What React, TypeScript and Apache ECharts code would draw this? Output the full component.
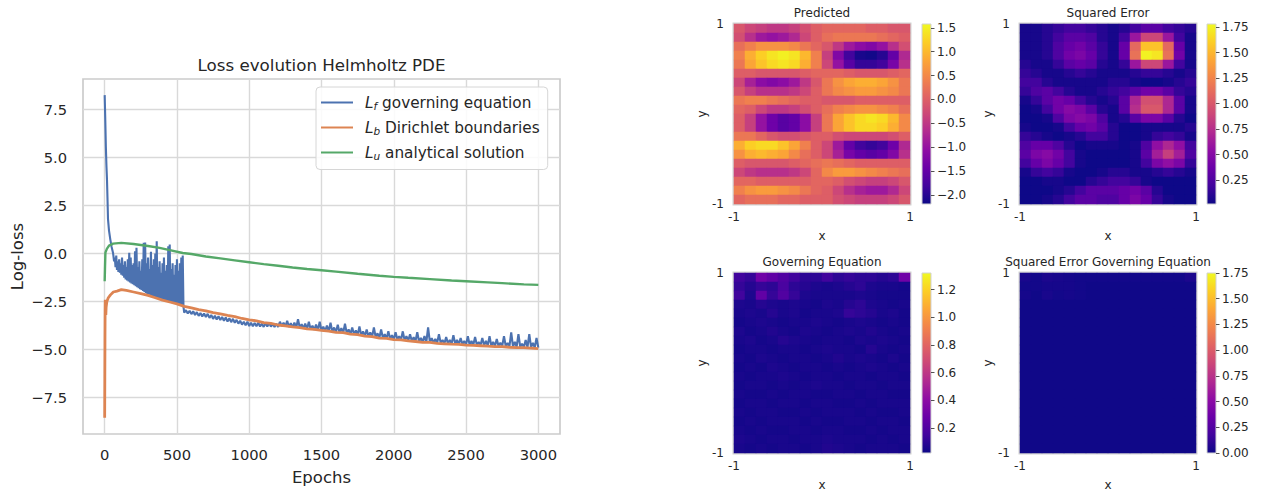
import React, { useEffect, useRef } from 'react';
import * as echarts from 'echarts';

const FONT = 'DejaVu Sans';
const INK = '#262626';
const PLASMA = ['#0d0887', '#41049d', '#6a00a8', '#8f0da4', '#b12a90', '#cc4778', '#e16462', '#f2844b', '#fca636', '#fcce25', '#f0f921'];

// ---------- Loss curves (epoch, log-loss) ----------
const X_TICKS = [0, 500, 1000, 1500, 2000, 2500, 3000];
const Y_TICKS = [-7.5, -5, -2.5, 0, 2.5, 5, 7.5];

const LF_HEAD: [number, number][] = [[0, 8.26], [4, 7.0], [8, 5.6], [12, 4.6], [16, 3.85], [20, 2.7], [23, 1.8], [30, 1.2], [39, 0.73], [48, 0.35], [58, 0.03]];
// noisy band: lower edge at epochs 65,75,..,545 and upper edge at 70,80,..,540
const LF_BAND_LOW = [-0.4, -0.7, -0.85, -0.95, -1.0, -1.1, -1.15, -1.25, -1.35, -1.4, -1.45, -1.5, -1.55, -1.6, -1.65, -1.7, -1.75, -1.8, -1.85, -1.9, -1.95, -2.0, -2.05, -2.1, -2.1, -2.15, -2.2, -2.25, -2.25, -2.3, -2.3, -2.35, -2.35, -2.4, -2.4, -2.45, -2.45, -2.5, -2.5, -2.55, -2.55, -2.6, -2.6, -2.62, -2.65, -2.67, -2.7, -2.72, -2.75];
const LF_BAND_HIGH = [-0.2, -0.1, -0.4, -0.3, -0.5, -0.2, -0.6, -0.4, -0.7, -0.3, 0.05, -0.2, -0.6, -0.5, 0.12, 0.3, -0.7, -0.4, -0.9, -0.3, 0.56, 0.58, -0.5, -0.2, -0.8, 0.1, -0.6, -0.3, 0.0, 0.64, -0.7, -0.4, -1.0, -0.5, -0.2, -0.9, -0.6, 0.38, 0.47, -0.8, -0.5, -1.1, -0.6, -0.3, -0.9, -0.5, -0.2, -0.1];
// tail: lower edge at epochs 550,575,..,3000 and upper edge at 562.5,587.5,..,2987.5
const LF_TAIL_LOW = [-3.07, -3.12, -3.15, -3.2, -3.24, -3.27, -3.3, -3.35, -3.4, -3.43,
  -3.46, -3.5, -3.54, -3.57, -3.6, -3.65, -3.7, -3.74, -3.77, -3.78,
  -3.78, -3.8, -3.82, -3.8, -3.8, -3.82, -3.82,
  -3.78, -3.8, -3.82, -3.85, -3.86, -3.88, -3.9, -3.93, -3.95, -3.97, -4.0,
  -4.02, -4.04, -4.06, -4.08, -4.1, -4.12, -4.14, -4.17, -4.2, -4.22, -4.24, -4.27, -4.3, -4.32, -4.34, -4.37, -4.4, -4.41, -4.43, -4.45,
  -4.47, -4.48, -4.5, -4.52, -4.54, -4.56, -4.57, -4.59, -4.6, -4.62, -4.62, -4.64, -4.66, -4.67, -4.68, -4.69, -4.7, -4.71, -4.72, -4.73,
  -4.75, -4.76, -4.76, -4.77, -4.78, -4.79, -4.8, -4.81, -4.82, -4.83, -4.83, -4.84, -4.85, -4.86, -4.86, -4.87, -4.88, -4.88, -4.89, -4.9,
  -4.9];
const LF_TAIL_HIGH = [-2.95, -2.98, -3.0, -3.05, -3.1, -3.12, -3.14, -3.2, -3.24, -3.26,
  -3.3, -3.33, -3.37, -3.4, -3.45, -3.5, -3.55, -3.55, -3.6, -3.62,
  -3.6, -3.65, -3.62, -3.6, -3.66, -3.65,
  -3.55, -3.6, -3.5, -3.62, -3.6, -3.42, -3.68, -3.65, -3.55, -3.75,
  -3.7, -3.55, -3.8, -3.75, -3.6, -3.85, -3.7, -3.88, -3.65, -3.95,
  -3.85, -4.0, -3.8, -4.05, -3.95, -4.1, -3.85, -4.15, -3.95, -4.2,
  -4.05, -4.25, -4.1, -4.3, -4.05, -4.3, -4.2, -4.35, -4.1, -4.4,
  -4.3, -3.85, -4.4, -4.45, -4.2, -4.5, -4.35, -4.5, -4.25, -4.5,
  -4.4, -4.55, -4.3, -4.55, -4.35, -4.6, -4.4, -4.55, -4.3, -4.6,
  -4.45, -4.65, -4.3, -4.65, -4.1, -4.6, -4.2, -4.7, -4.5, -4.2,
  -4.65, -4.4];

const LB_DATA: [number, number][] = [[0, -8.55], [1, -6.5], [2, -4.5], [3, -3.0], [4, -2.4], [6, -2.8], [8, -3.2], [10, -2.8], [15, -2.5], [25, -2.3], [40, -2.15], [60, -2.0], [85, -1.95], [115, -1.88], [150, -1.92],
  [200, -2.0], [250, -2.08], [300, -2.18], [350, -2.3], [400, -2.42], [450, -2.52], [500, -2.62], [550, -2.75], [600, -2.83], [650, -2.92], [700, -2.98], [750, -3.08], [800, -3.14], [850, -3.22], [900, -3.28], [950, -3.38],
  [1000, -3.45], [1050, -3.5], [1100, -3.6], [1150, -3.64], [1200, -3.72], [1250, -3.76], [1300, -3.82], [1350, -3.86], [1400, -3.92], [1450, -3.95], [1500, -4.0], [1550, -4.04], [1600, -4.1], [1650, -4.12], [1700, -4.2], [1750, -4.22], [1800, -4.3], [1850, -4.33], [1900, -4.4], [1950, -4.42],
  [2000, -4.48], [2050, -4.5], [2100, -4.55], [2150, -4.58], [2200, -4.62], [2250, -4.63], [2300, -4.68], [2350, -4.7], [2400, -4.72], [2450, -4.73], [2500, -4.77], [2550, -4.78], [2600, -4.8], [2650, -4.82], [2700, -4.85], [2750, -4.85], [2800, -4.88], [2850, -4.9], [2900, -4.9], [2950, -4.92], [3000, -4.95]];

const LU_DATA: [number, number][] = [[0, -1.44], [2, -0.8], [5, 0.05], [15, 0.25], [30, 0.42], [58, 0.52], [115, 0.56], [200, 0.5], [300, 0.4], [380, 0.3], [450, 0.18], [540, 0.03], [600, -0.02], [700, -0.15], [800, -0.25], [900, -0.35], [1000, -0.45], [1100, -0.55], [1200, -0.63], [1300, -0.72], [1400, -0.8], [1500, -0.87], [1600, -0.94], [1750, -1.05], [1900, -1.15], [2000, -1.21], [2100, -1.26], [2250, -1.33], [2400, -1.4], [2500, -1.44], [2650, -1.5], [2750, -1.54], [2900, -1.6], [3000, -1.63]];

// ---------- Heatmaps (rows top -> bottom, 16 columns x -1..1) ----------
const HEAT_COLS = 16;
const HEAT_ROWS = 20;

const PRED: number[][] = [
  [-0.1, -0.3, -0.4, -0.5, -0.5, -0.4, -0.2, 0.0, 0.1, 0.1, 0.1, 0.1, 0.0, 0.0, -0.1, -0.1],
  [-0.2, -0.6, -0.9, -1.0, -0.9, -0.7, -0.3, 0.0, 0.2, 0.3, 0.3, 0.3, 0.3, 0.2, 0.1, 0.0],
  [0.2, 0.4, 0.6, 0.6, 0.6, 0.5, 0.3, 0.1, -0.1, -0.5, -0.9, -1.1, -1.2, -1.0, -0.6, -0.2],
  [0.4, 0.9, 1.2, 1.4, 1.5, 1.4, 1.0, 0.4, -0.4, -1.2, -1.8, -2.1, -2.15, -2.0, -1.5, -0.7],
  [0.3, 0.8, 1.1, 1.3, 1.4, 1.3, 0.9, 0.4, -0.3, -1.0, -1.6, -1.9, -1.9, -1.8, -1.3, -0.6],
  [0.0, 0.0, -0.1, -0.1, -0.1, -0.1, 0.0, 0.1, 0.1, 0.1, 0.0, -0.1, -0.1, -0.1, 0.0, 0.1],
  [-0.3, -0.8, -1.1, -1.2, -1.1, -0.9, -0.5, -0.1, 0.3, 0.6, 0.8, 0.9, 0.9, 0.8, 0.6, 0.3],
  [-0.1, -0.4, -0.6, -0.6, -0.6, -0.5, -0.3, 0.0, 0.3, 0.5, 0.6, 0.7, 0.7, 0.6, 0.5, 0.3],
  [0.3, 0.4, 0.4, 0.3, 0.2, 0.1, 0.0, 0.0, -0.1, -0.1, -0.1, 0.0, 0.0, 0.0, 0.0, 0.0],
  [0.1, 0.0, -0.3, -0.5, -0.5, -0.4, -0.2, 0.0, 0.2, 0.4, 0.5, 0.6, 0.6, 0.5, 0.4, 0.2],
  [0.0, -0.4, -1.0, -1.4, -1.6, -1.5, -1.1, -0.4, 0.3, 0.8, 1.1, 1.3, 1.4, 1.3, 1.0, 0.5],
  [0.0, -0.4, -1.0, -1.4, -1.6, -1.5, -1.1, -0.4, 0.3, 0.8, 1.1, 1.3, 1.3, 1.2, 0.9, 0.5],
  [0.3, 0.3, 0.1, -0.1, -0.2, -0.2, -0.1, 0.0, 0.0, -0.2, -0.3, -0.3, -0.3, -0.3, -0.2, 0.0],
  [0.9, 1.2, 1.3, 1.3, 1.1, 0.8, 0.4, 0.0, -0.3, -0.9, -1.5, -1.8, -1.9, -1.8, -1.4, -0.7],
  [0.6, 0.9, 1.0, 0.9, 0.8, 0.5, 0.2, 0.0, -0.3, -0.8, -1.3, -1.5, -1.6, -1.5, -1.2, -0.6],
  [0.0, -0.1, -0.1, -0.1, -0.1, 0.0, 0.1, 0.2, 0.3, 0.2, 0.1, 0.0, 0.0, 0.0, 0.0, 0.0],
  [-0.3, -0.5, -0.6, -0.6, -0.6, -0.5, -0.3, 0.1, 0.5, 0.7, 0.7, 0.6, 0.5, 0.4, 0.3, 0.2],
  [0.1, 0.1, 0.0, 0.0, 0.0, 0.0, 0.0, 0.1, 0.1, 0.0, -0.2, -0.3, -0.4, -0.4, -0.3, -0.1],
  [0.4, 0.6, 0.7, 0.7, 0.6, 0.5, 0.3, 0.1, 0.0, -0.3, -0.6, -0.8, -0.9, -0.9, -0.7, -0.3],
  [0.1, 0.2, 0.2, 0.2, 0.1, 0.1, 0.0, 0.0, 0.0, -0.2, -0.3, -0.4, -0.4, -0.4, -0.3, -0.1],
];

const SQERR: number[][] = [
  [0.05, 0.05, 0.1, 0.15, 0.2, 0.2, 0.15, 0.1, 0.05, 0.1, 0.2, 0.3, 0.3, 0.2, 0.15, 0.1],
  [0.05, 0.05, 0.1, 0.2, 0.3, 0.3, 0.25, 0.1, 0.05, 0.2, 0.6, 0.9, 0.9, 0.6, 0.2, 0.05],
  [0.05, 0.05, 0.1, 0.25, 0.35, 0.4, 0.3, 0.15, 0.05, 0.35, 1.1, 1.55, 1.55, 1.1, 0.35, 0.05],
  [0.05, 0.05, 0.1, 0.25, 0.4, 0.45, 0.35, 0.15, 0.05, 0.35, 1.15, 1.75, 1.7, 1.15, 0.4, 0.05],
  [0.1, 0.05, 0.05, 0.15, 0.3, 0.35, 0.3, 0.1, 0.05, 0.15, 0.6, 0.9, 0.9, 0.6, 0.2, 0.05],
  [0.15, 0.1, 0.05, 0.05, 0.1, 0.15, 0.1, 0.05, 0.05, 0.05, 0.1, 0.15, 0.15, 0.1, 0.05, 0.1],
  [0.2, 0.2, 0.1, 0.05, 0.05, 0.05, 0.05, 0.05, 0.1, 0.1, 0.05, 0.02, 0.02, 0.05, 0.1, 0.15],
  [0.15, 0.25, 0.3, 0.2, 0.1, 0.05, 0.05, 0.1, 0.15, 0.2, 0.3, 0.4, 0.4, 0.3, 0.15, 0.1],
  [0.05, 0.15, 0.3, 0.4, 0.35, 0.2, 0.1, 0.05, 0.1, 0.3, 0.7, 0.95, 0.95, 0.7, 0.3, 0.05],
  [0.02, 0.05, 0.2, 0.4, 0.5, 0.45, 0.3, 0.1, 0.05, 0.3, 0.75, 1.0, 1.0, 0.7, 0.3, 0.05],
  [0.02, 0.02, 0.05, 0.25, 0.45, 0.5, 0.45, 0.25, 0.05, 0.1, 0.3, 0.45, 0.45, 0.3, 0.1, 0.02],
  [0.05, 0.02, 0.02, 0.05, 0.2, 0.35, 0.4, 0.3, 0.1, 0.02, 0.02, 0.05, 0.05, 0.05, 0.05, 0.1],
  [0.15, 0.1, 0.05, 0.02, 0.05, 0.1, 0.2, 0.2, 0.1, 0.02, 0.02, 0.05, 0.15, 0.2, 0.15, 0.05],
  [0.25, 0.35, 0.35, 0.25, 0.1, 0.02, 0.05, 0.05, 0.05, 0.02, 0.05, 0.25, 0.55, 0.7, 0.55, 0.2],
  [0.3, 0.45, 0.5, 0.4, 0.2, 0.05, 0.02, 0.02, 0.02, 0.02, 0.05, 0.3, 0.65, 0.85, 0.65, 0.25],
  [0.2, 0.35, 0.45, 0.35, 0.2, 0.05, 0.02, 0.02, 0.02, 0.02, 0.05, 0.2, 0.45, 0.55, 0.45, 0.15],
  [0.05, 0.15, 0.2, 0.15, 0.05, 0.02, 0.02, 0.05, 0.1, 0.1, 0.05, 0.05, 0.1, 0.15, 0.1, 0.05],
  [0.02, 0.02, 0.05, 0.05, 0.02, 0.02, 0.1, 0.15, 0.2, 0.2, 0.15, 0.05, 0.02, 0.02, 0.02, 0.02],
  [0.02, 0.02, 0.02, 0.05, 0.1, 0.2, 0.3, 0.3, 0.3, 0.35, 0.4, 0.3, 0.1, 0.02, 0.02, 0.02],
  [0.02, 0.02, 0.05, 0.1, 0.2, 0.3, 0.3, 0.25, 0.25, 0.35, 0.45, 0.35, 0.15, 0.05, 0.02, 0.02],
];

const GOV: number[][] = [
  [0.15, 0.12, 0.3, 0.25, 0.2, 0.15, 0.1, 0.1, 0.15, 0.1, 0.12, 0.1, 0.1, 0.08, 0.1, 0.3],
  [0.12, 0.08, 0.12, 0.1, 0.18, 0.1, 0.08, 0.06, 0.05, 0.06, 0.08, 0.1, 0.06, 0.05, 0.05, 0.04],
  [0.15, 0.06, 0.25, 0.12, 0.2, 0.12, 0.06, 0.05, 0.05, 0.05, 0.05, 0.06, 0.05, 0.04, 0.04, 0.04],
  [0.06, 0.05, 0.08, 0.06, 0.05, 0.06, 0.05, 0.04, 0.06, 0.05, 0.08, 0.1, 0.06, 0.05, 0.04, 0.05],
  [0.05, 0.06, 0.05, 0.08, 0.05, 0.06, 0.04, 0.05, 0.05, 0.06, 0.12, 0.1, 0.08, 0.05, 0.06, 0.04],
  [0.04, 0.05, 0.06, 0.05, 0.04, 0.05, 0.05, 0.06, 0.05, 0.04, 0.05, 0.06, 0.05, 0.04, 0.05, 0.04],
  [0.06, 0.04, 0.05, 0.07, 0.05, 0.04, 0.06, 0.05, 0.04, 0.05, 0.06, 0.05, 0.07, 0.05, 0.04, 0.05],
  [0.05, 0.06, 0.04, 0.05, 0.08, 0.06, 0.05, 0.04, 0.05, 0.05, 0.04, 0.06, 0.05, 0.06, 0.05, 0.04],
  [0.04, 0.05, 0.05, 0.04, 0.05, 0.05, 0.04, 0.05, 0.06, 0.05, 0.05, 0.04, 0.08, 0.05, 0.04, 0.05],
  [0.05, 0.04, 0.06, 0.05, 0.04, 0.05, 0.05, 0.04, 0.05, 0.07, 0.05, 0.06, 0.05, 0.04, 0.06, 0.04],
  [0.04, 0.05, 0.04, 0.06, 0.05, 0.04, 0.05, 0.05, 0.04, 0.05, 0.04, 0.05, 0.06, 0.05, 0.04, 0.05],
  [0.05, 0.04, 0.05, 0.05, 0.06, 0.05, 0.04, 0.05, 0.05, 0.04, 0.05, 0.05, 0.04, 0.05, 0.05, 0.04],
  [0.04, 0.05, 0.05, 0.04, 0.05, 0.04, 0.05, 0.06, 0.05, 0.05, 0.04, 0.05, 0.05, 0.04, 0.05, 0.05],
  [0.05, 0.04, 0.04, 0.05, 0.04, 0.05, 0.05, 0.04, 0.04, 0.05, 0.05, 0.04, 0.05, 0.05, 0.04, 0.04],
  [0.04, 0.05, 0.05, 0.04, 0.05, 0.05, 0.04, 0.05, 0.05, 0.04, 0.04, 0.05, 0.04, 0.05, 0.05, 0.05],
  [0.05, 0.04, 0.05, 0.05, 0.04, 0.04, 0.05, 0.04, 0.05, 0.05, 0.05, 0.04, 0.05, 0.04, 0.04, 0.05],
  [0.04, 0.05, 0.04, 0.05, 0.05, 0.05, 0.04, 0.05, 0.04, 0.04, 0.05, 0.05, 0.04, 0.05, 0.05, 0.04],
  [0.05, 0.04, 0.05, 0.04, 0.04, 0.05, 0.05, 0.04, 0.05, 0.05, 0.04, 0.04, 0.05, 0.04, 0.05, 0.05],
  [0.06, 0.05, 0.04, 0.05, 0.05, 0.04, 0.05, 0.05, 0.06, 0.05, 0.05, 0.05, 0.04, 0.05, 0.04, 0.05],
  [0.05, 0.04, 0.05, 0.04, 0.05, 0.05, 0.04, 0.05, 0.07, 0.06, 0.05, 0.04, 0.05, 0.05, 0.05, 0.04],
];

const SQGOV: number[][] = [
  [0.04, 0.02, 0.05, 0.04, 0.03, 0.02, 0.02, 0.02, 0.02, 0.02, 0.02, 0.02, 0.02, 0.02, 0.02, 0.05],
  [0.02, 0.02, 0.03, 0.03, 0.03, 0.02, 0.01, 0.01, 0.01, 0.01, 0.01, 0.01, 0.01, 0.01, 0.01, 0.01],
  [0.03, 0.01, 0.04, 0.02, 0.03, 0.02, 0.01, 0.01, 0.01, 0.01, 0.01, 0.01, 0.01, 0.01, 0.01, 0.01],
  [0.01, 0.01, 0.01, 0.01, 0.01, 0.01, 0.01, 0.01, 0.01, 0.01, 0.01, 0.01, 0.01, 0.01, 0.01, 0.01],
  [0.01, 0.01, 0.01, 0.01, 0.01, 0.01, 0.01, 0.01, 0.01, 0.01, 0.01, 0.01, 0.01, 0.01, 0.01, 0.01],
  [0.01, 0.01, 0.01, 0.01, 0.01, 0.01, 0.01, 0.01, 0.01, 0.01, 0.01, 0.01, 0.01, 0.01, 0.01, 0.01],
  [0.01, 0.01, 0.01, 0.01, 0.01, 0.01, 0.01, 0.01, 0.01, 0.01, 0.01, 0.01, 0.01, 0.01, 0.01, 0.01],
  [0.01, 0.01, 0.01, 0.01, 0.01, 0.01, 0.01, 0.01, 0.01, 0.01, 0.01, 0.01, 0.01, 0.01, 0.01, 0.01],
  [0.01, 0.01, 0.01, 0.01, 0.01, 0.01, 0.01, 0.01, 0.01, 0.01, 0.01, 0.01, 0.01, 0.01, 0.01, 0.01],
  [0.01, 0.01, 0.01, 0.01, 0.01, 0.01, 0.01, 0.01, 0.01, 0.01, 0.01, 0.01, 0.01, 0.01, 0.01, 0.01],
  [0.01, 0.01, 0.01, 0.01, 0.01, 0.01, 0.01, 0.01, 0.01, 0.01, 0.01, 0.01, 0.01, 0.01, 0.01, 0.01],
  [0.01, 0.01, 0.01, 0.01, 0.01, 0.01, 0.01, 0.01, 0.01, 0.01, 0.01, 0.01, 0.01, 0.01, 0.01, 0.01],
  [0.01, 0.01, 0.01, 0.01, 0.01, 0.01, 0.01, 0.01, 0.01, 0.01, 0.01, 0.01, 0.01, 0.01, 0.01, 0.01],
  [0.01, 0.01, 0.01, 0.01, 0.01, 0.01, 0.01, 0.01, 0.01, 0.01, 0.01, 0.01, 0.01, 0.01, 0.01, 0.01],
  [0.01, 0.01, 0.01, 0.01, 0.01, 0.01, 0.01, 0.01, 0.01, 0.01, 0.01, 0.01, 0.01, 0.01, 0.01, 0.01],
  [0.01, 0.01, 0.01, 0.01, 0.01, 0.01, 0.01, 0.01, 0.01, 0.01, 0.01, 0.01, 0.01, 0.01, 0.01, 0.01],
  [0.01, 0.01, 0.01, 0.01, 0.01, 0.01, 0.01, 0.01, 0.01, 0.01, 0.01, 0.01, 0.01, 0.01, 0.01, 0.01],
  [0.01, 0.01, 0.01, 0.01, 0.01, 0.01, 0.01, 0.01, 0.01, 0.01, 0.01, 0.01, 0.01, 0.01, 0.01, 0.01],
  [0.01, 0.01, 0.01, 0.01, 0.01, 0.01, 0.01, 0.01, 0.01, 0.01, 0.01, 0.01, 0.01, 0.01, 0.01, 0.01],
  [0.01, 0.01, 0.01, 0.01, 0.01, 0.01, 0.01, 0.01, 0.01, 0.01, 0.01, 0.01, 0.01, 0.01, 0.01, 0.01],
];

const PRED_TICKS = [-2.0, -1.5, -1.0, -0.5, 0.0, 0.5, 1.0, 1.5];
const SQERR_TICKS = [0.25, 0.5, 0.75, 1.0, 1.25, 1.5, 1.75];
const GOV_TICKS = [0.2, 0.4, 0.6, 0.8, 1.0, 1.2];
const SQGOV_TICKS = [0.0, 0.25, 0.5, 0.75, 1.0, 1.25, 1.5, 1.75];

const PANELS = [
  { title: 'Predicted', grid: PRED, min: -2.19, max: 1.58, ticks: PRED_TICKS, dec: 1, plot: [734, 24, 176, 180], bar: [922, 24, 9, 180] },
  { title: 'Squared Error', grid: SQERR, min: 0.015, max: 1.78, ticks: SQERR_TICKS, dec: 2, plot: [1020, 24, 176, 180], bar: [1207, 24, 9, 180] },
  { title: 'Governing Equation', grid: GOV, min: 0.02, max: 1.32, ticks: GOV_TICKS, dec: 1, plot: [734, 273, 176, 180], bar: [922, 273, 9, 180] },
  { title: 'Squared Error Governing Equation', grid: SQGOV, min: 0, max: 1.75, ticks: SQGOV_TICKS, dec: 2, plot: [1020, 273, 176, 180], bar: [1207, 273, 9, 180] },
];

const LEGEND_TEXT: Record<string, { sub: string; text: string }> = {
  Lf: { sub: 'f', text: 'governing equation' },
  Lb: { sub: 'b', text: 'Dirichlet boundaries' },
  Lu: { sub: 'u', text: 'analytical solution' },
};

const fmt = (v: number, d: number) => (v < 0 ? '\u2212' : '') + Math.abs(v).toFixed(d);

function buildLf(): [number, number][] {
  const out: [number, number][] = [...LF_HEAD];
  LF_BAND_LOW.forEach((lo, i) => {
    out.push([65 + 10 * i, lo]);
    if (i < LF_BAND_HIGH.length) out.push([70 + 10 * i, LF_BAND_HIGH[i]]);
  });
  LF_TAIL_LOW.forEach((lo, i) => {
    out.push([550 + 25 * i, lo]);
    if (i < LF_TAIL_HIGH.length) out.push([562.5 + 25 * i, LF_TAIL_HIGH[i]]);
  });
  return out;
}

function heatData(g: number[][]) {
  const out: number[][] = [];
  g.forEach((row, r) => row.forEach((v, c) => out.push([c, r, v])));
  return out;
}

function buildOption(): any {
  const catX = Array.from({ length: HEAT_COLS }, (_, i) => String(i));
  const catY = Array.from({ length: HEAT_ROWS }, (_, i) => String(i));
  const grids: any[] = [{ left: 83, top: 79, width: 477, height: 355, show: true, borderColor: '#cccccc', borderWidth: 1.7, backgroundColor: '#ffffff', containLabel: false, outerBoundsMode: 'none' }];
  const xAxes: any[] = [{
    type: 'value', gridIndex: 0, min: -150, max: 3150,
    axisLine: { show: false, onZero: false },
    axisTick: { show: false, customValues: X_TICKS },
    axisLabel: { customValues: X_TICKS, formatter: (v: number) => String(v), margin: 13, color: INK, fontSize: 14.7, fontFamily: FONT },
    splitLine: { show: true, lineStyle: { color: '#d9d9d9', width: 1.4 } },
    name: 'Epochs', nameLocation: 'middle', nameGap: 35, nameTextStyle: { color: INK, fontSize: 16.5, fontFamily: FONT },
  }];
  const yAxes: any[] = [{
    type: 'value', gridIndex: 0, min: -9.4, max: 9.1,
    axisLine: { show: false, onZero: false },
    axisTick: { show: false, customValues: Y_TICKS },
    axisLabel: { customValues: Y_TICKS, formatter: (v: number) => fmt(v, 1), margin: 16, color: INK, fontSize: 14.7, fontFamily: FONT },
    splitLine: { show: true, lineStyle: { color: '#d9d9d9', width: 1.4 } },
    name: 'Log-loss', nameLocation: 'middle', nameGap: 57, nameTextStyle: { color: INK, fontSize: 16.5, fontFamily: FONT },
  }];
  const series: any[] = [
    { name: 'Lf', type: 'line', xAxisIndex: 0, yAxisIndex: 0, data: buildLf(), symbol: 'none', lineStyle: { color: '#4c72b0', width: 2.1 }, itemStyle: { color: '#4c72b0' } },
    { name: 'Lb', type: 'line', xAxisIndex: 0, yAxisIndex: 0, data: LB_DATA, symbol: 'none', lineStyle: { color: '#dd8452', width: 2.8 }, itemStyle: { color: '#dd8452' } },
    { name: 'Lu', type: 'line', xAxisIndex: 0, yAxisIndex: 0, data: LU_DATA, symbol: 'none', lineStyle: { color: '#55a868', width: 2.4 }, itemStyle: { color: '#55a868' } },
  ];
  const visualMaps: any[] = [];
  const graphics: any[] = [{
    type: 'text', x: 321.5, y: 65,
    style: { text: 'Loss evolution Helmholtz PDE', fill: INK, fontSize: 16.7, fontFamily: FONT, align: 'center', verticalAlign: 'middle' },
  }];

  PANELS.forEach((p, i) => {
    const g = grids.length;
    const [pl, pt, pw, ph] = p.plot;
    const [bl, bt, bw, bh] = p.bar;
    grids.push({ left: pl, top: pt, width: pw, height: ph, show: true, borderColor: '#d2d2d2', borderWidth: 3, backgroundColor: 'transparent', outerBoundsMode: 'none' });
    grids.push({
      left: bl, top: bt, width: bw, height: bh, show: true, borderColor: '#d2d2d2', borderWidth: 1, outerBoundsMode: 'none',
      backgroundColor: new echarts.graphic.LinearGradient(0, 0, 0, 1, PLASMA.slice().reverse().map((c, k) => ({ offset: k / (PLASMA.length - 1), color: c }))),
    });
    const axisLbl = { color: INK, fontSize: 12, fontFamily: FONT };
    xAxes.push({ type: 'category', gridIndex: g, data: catX, show: false, position: 'top' });
    xAxes.push({
      type: 'value', gridIndex: g, min: -1, max: 1, position: 'bottom',
      axisLine: { show: false, onZero: false }, axisTick: { show: false, customValues: [-1, 1] }, splitLine: { show: false },
      axisLabel: { ...axisLbl, customValues: [-1, 1], formatter: (v: number) => (v < 0 ? '-1' : '1'), margin: 7 },
      name: 'x', nameLocation: 'middle', nameGap: 26, nameTextStyle: axisLbl,
    });
    xAxes.push({ type: 'value', gridIndex: g + 1, min: 0, max: 1, show: false });
    yAxes.push({ type: 'category', gridIndex: g, data: catY, inverse: true, show: false, position: 'right' });
    yAxes.push({
      type: 'value', gridIndex: g, min: -1, max: 1, position: 'left',
      axisLine: { show: false, onZero: false }, axisTick: { show: false, customValues: [-1, 1] }, splitLine: { show: false },
      axisLabel: { ...axisLbl, customValues: [-1, 1], formatter: (v: number) => (v < 0 ? '-1' : '1'), margin: 10 },
      name: 'y', nameLocation: 'middle', nameGap: 25, nameTextStyle: axisLbl,
    });
    yAxes.push({
      type: 'value', gridIndex: g + 1, min: p.min, max: p.max, position: 'right',
      axisLine: { show: false, onZero: false },
      axisTick: { show: true, length: 3.5, lineStyle: { color: INK, width: 0.8 }, customValues: p.ticks },
      axisLabel: { ...axisLbl, customValues: p.ticks, formatter: (v: number) => fmt(v, p.dec), margin: 6 },
      splitLine: { show: false },
    });
    const ai = 1 + 3 * i;
    series.push({
      type: 'heatmap', xAxisIndex: ai, yAxisIndex: ai, data: heatData(p.grid),
      itemStyle: { borderWidth: 0 }, emphasis: { disabled: true }, progressive: 0,
    });
    visualMaps.push({ type: 'continuous', show: false, seriesIndex: 3 + i, dimension: 2, min: p.min, max: p.max, inRange: { color: PLASMA } });
    graphics.push({
      type: 'text', x: pl + pw / 2, y: pt - 11.5,
      style: { text: p.title, fill: INK, fontSize: 12, fontFamily: FONT, align: 'center', verticalAlign: 'middle' },
    });
  });

  return {
    animation: false,
    backgroundColor: '#ffffff',
    textStyle: { fontFamily: FONT, color: INK },
    grid: grids,
    xAxis: xAxes,
    yAxis: yAxes,
    visualMap: visualMaps,
    series,
    graphic: graphics,
    legend: {
      data: ['Lf', 'Lb', 'Lu'],
      orient: 'vertical', left: 316, top: 87,
      padding: [8, 8, 8, 5], itemGap: 8.5, itemWidth: 32, itemHeight: 2, icon: 'rect',
      backgroundColor: 'rgba(255,255,255,0.85)', borderColor: '#d6d6d6', borderWidth: 1, borderRadius: 4,
      selectedMode: false,
      formatter: (name: string) => `{L|L}{s|${LEGEND_TEXT[name].sub}}{t| ${LEGEND_TEXT[name].text}}`,
      textStyle: {
        color: INK, fontFamily: FONT, fontSize: 15.3,
        rich: {
          L: { fontStyle: 'italic', fontSize: 15.3, lineHeight: 18, padding: [0, 0, 0, 7], color: INK, fontFamily: FONT },
          s: { fontStyle: 'italic', fontSize: 10.5, lineHeight: 11, verticalAlign: 'bottom', color: INK, fontFamily: FONT },
          t: { fontSize: 15.3, lineHeight: 18, color: INK, fontFamily: FONT },
        },
      },
    },
  };
}

export default function App() {
  const ref = useRef<HTMLDivElement>(null);
  useEffect(() => {
    if (!ref.current) return;
    const chart = echarts.init(ref.current, null, { renderer: 'svg' });
    chart.setOption(buildOption());
    return () => chart.dispose();
  }, []);
  return <div ref={ref} style={{ position: 'absolute', left: 0, top: 0, width: 1263, height: 491, background: '#ffffff' }} />;
}
